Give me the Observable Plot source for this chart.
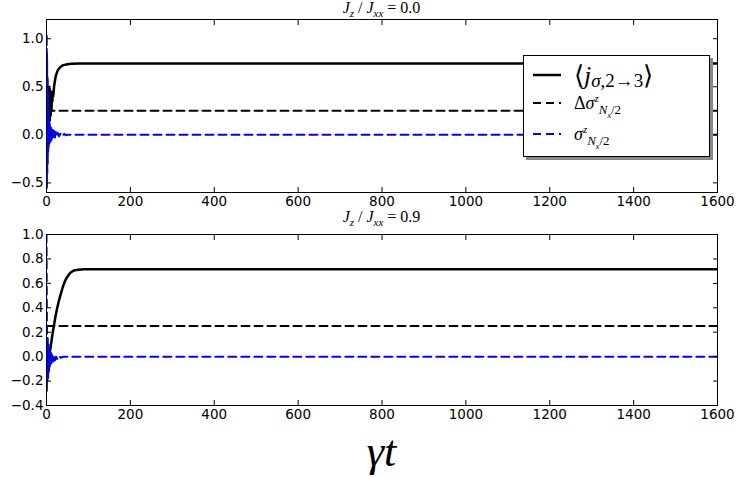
<!DOCTYPE html>
<html>
<head>
<meta charset="utf-8">
<script src="https://cdn.jsdelivr.net/npm/d3@7"></script>
<script src="https://cdn.jsdelivr.net/npm/@observablehq/plot@0.6"></script>
<style>
body { margin: 0; background: #fff; }
#wrap { position: relative; width: 737px; height: 478px; overflow: hidden; font-family: "DejaVu Sans", sans-serif; }
.panel { position: absolute; left: 0; z-index: 1; }
.title { position: absolute; z-index: 2; left: 46px; width: 671px; text-align: center; font-family: "Liberation Serif", serif; font-size: 16px; line-height: 16px; }
.title i { font-style: italic; }
.title sub { font-size: 11px; line-height: 0; }
#xlabel { position: absolute; z-index: 2; left: 46px; width: 671px; text-align: center; top: 434px; font-family: "Liberation Serif", serif; font-style: italic; font-size: 44px; line-height: 36px; }
#legend { position: absolute; z-index: 3; left: 523px; top: 55px; width: 185px; height: 100px; background: #fff; border: 1px solid #000; box-shadow: 3px 3px 0 #888; font-family: "Liberation Serif", serif; }
.row { position: absolute; left: 0; width: 185px; }
.row svg { position: absolute; left: 9px; }
.row .lbl { position: absolute; left: 50px; white-space: nowrap; line-height: 1; }
</style>
</head>
<body>
<div id="wrap">
  <div id="top" class="panel" style="top:0px"></div>
  <div id="bottom" class="panel" style="top:218px"></div>
  <div class="title" style="top:0px"><i>J</i><sub><i>z</i></sub> / <i>J</i><sub><i>xx</i></sub> = 0.0</div>
  <div class="title" style="top:209px"><i>J</i><sub><i>z</i></sub> / <i>J</i><sub><i>xx</i></sub> = 0.9</div>
  <div id="xlabel">γt</div>
  <div id="legend">
    <div class="row" style="top:6px;height:28px">
      <svg width="30" height="28"><line x1="0" x2="28" y1="13" y2="13" stroke="#000" stroke-width="2.5"/></svg>
      <span class="lbl" style="font-size:26px;top:1px">⟨<i>j</i><span style="font-size:19px;position:relative;top:3px"><i>σ</i>,2→3</span>⟩</span>
    </div>
    <div class="row" style="top:35px;height:28px">
      <svg width="30" height="28"><line x1="0" x2="28" y1="12" y2="12" stroke="#000" stroke-width="2" stroke-dasharray="8,5"/></svg>
      <span class="lbl" style="font-size:18px;top:3px">Δ<i>σ</i><sup style="font-size:11px;line-height:0"><i>z</i></sup><span style="font-size:13px;position:relative;top:5px"><i>N</i><sub style="font-size:8px;line-height:0"><i>x</i></sub>/2</span></span>
    </div>
    <div class="row" style="top:66px;height:28px">
      <svg width="30" height="28"><line x1="0" x2="28" y1="12" y2="12" stroke="#0000ff" stroke-width="2" stroke-dasharray="8,5"/></svg>
      <span class="lbl" style="font-size:18px;top:3px"><i>σ</i><sup style="font-size:11px;line-height:0"><i>z</i></sup><span style="font-size:13px;position:relative;top:5px"><i>N</i><sub style="font-size:8px;line-height:0"><i>x</i></sub>/2</span></span>
    </div>
  </div>
</div>
<script>
// ---- data ----
const xTicks = [0, 200, 400, 600, 800, 1000, 1200, 1400, 1600];
const yTicksTop = [-0.5, 0.0, 0.5, 1.0];
const yTicksBottom = [-0.4, -0.2, 0.0, 0.2, 0.4, 0.6, 0.8, 1.0];

// Top panel (Jz/Jxx = 0.0)
const topJ_t = [0,0.5,1,1.5,2,2.5,3,3.5,4,4.5,5,5.5,6,6.5,7,7.5,8,8.5,9,9.5,10,10.5,11,11.5,12,13,14,15,16,18,20,22,25,28,32,36,40,50,60,80,1600];
const topJ_v = [0.85,0.80,0.35,0.60,0.15,0.50,0.20,0.48,0.12,0.45,0.25,0.50,0.18,0.46,0.28,0.48,0.15,0.44,0.30,0.45,0.20,0.42,0.32,0.44,0.25,0.42,0.35,0.45,0.40,0.50,0.56,0.61,0.65,0.68,0.70,0.715,0.725,0.735,0.74,0.742,0.742];
const topD_t = [0, 1600];
const topD_v = [0.25, 0.25];
const topS_t = [0,0.5,1,1.5,2,2.5,3,3.5,4,4.5,5,5.5,6,6.5,7,7.5,8,9,10,11,12,13,14,15,16,18,20,22,24,27,30,34,38,42,46,50,1600];
const topS_v = [0.0,1.05,-0.55,0.8,-0.4,0.6,-0.3,0.45,-0.2,0.3,-0.15,0.2,-0.12,0.15,-0.1,0.12,-0.08,0.09,-0.07,0.07,-0.05,0.06,-0.04,0.05,-0.03,0.04,-0.03,0.03,-0.02,0.02,-0.015,0.015,-0.01,0.01,-0.005,0,0];

// Bottom panel (Jz/Jxx = 0.9)
const botJ_t = [0,1,2,3,4,5,6,8,10,12,15,18,21,25,29,33,38,43,48,53,58,65,75,90,1600];
const botJ_v = [-0.28,0.15,-0.12,0.08,-0.05,0.04,0.0,0.04,0.08,0.13,0.2,0.26,0.32,0.39,0.45,0.5,0.56,0.61,0.645,0.67,0.69,0.705,0.712,0.715,0.715];
const botD_t = [0, 1600];
const botD_v = [0.25, 0.25];
const botS_t = [0,1,2,3,4,5,6,7,8,9,10,11,12,14,16,18,20,23,26,30,34,40,1600];
const botS_v = [1.0,0.3,-0.2,0.15,-0.18,0.1,-0.12,0.06,-0.08,0.04,-0.06,0.03,-0.05,0.02,-0.04,0.01,-0.03,0.0,-0.02,0.005,-0.01,0.0,0.0];

const zip = (ts, vs) => ts.map((t, i) => ({t, v: vs[i]}));

function panel(series, yDomain, yTicks, height, mt, mb) {
  const [J, D, S] = series;
  return Plot.plot({
    width: 737, height,
    marginLeft: 46, marginRight: 20, marginTop: mt, marginBottom: mb,
    style: {fontFamily: "DejaVu Sans", fontSize: "13.5px", color: "#000", background: "transparent"},
    x: {domain: [0, 1600], label: null},
    y: {domain: yDomain, label: null},
    marks: [
      Plot.line(J, {x: "t", y: "v", stroke: "#000", strokeWidth: 2.5, clip: true}),
      Plot.line(D, {x: "t", y: "v", stroke: "#000", strokeWidth: 2, strokeDasharray: "8,5", clip: true}),
      Plot.line(S, {x: "t", y: "v", stroke: "#0000ff", strokeWidth: 2, strokeDasharray: "8,5", clip: true}),
      Plot.frame({stroke: "#000", strokeWidth: 1}),
      Plot.axisX({ticks: xTicks, tickSize: -5, tickFormat: () => "", label: null}),
      Plot.axisX({anchor: "top", ticks: xTicks, tickSize: -5, tickFormat: () => "", label: null}),
      Plot.axisX({ticks: xTicks, tickSize: 0, tickPadding: 4, fontSize: 13.5, tickFormat: d => String(d), label: null}),
      Plot.axisY({ticks: yTicks, tickSize: -5, tickFormat: () => "", label: null}),
      Plot.axisY({anchor: "right", ticks: yTicks, tickSize: -5, tickFormat: () => "", label: null}),
      Plot.axisY({ticks: yTicks, tickSize: 0, tickPadding: 3, fontSize: 13.5, tickFormat: d3.format(".1f"), label: null})
    ]
  });
}

document.getElementById("top").appendChild(
  panel([zip(topJ_t, topJ_v), zip(topD_t, topD_v), zip(topS_t, topS_v)], [-0.6, 1.2], yTicksTop, 218, 19, 26));
document.getElementById("bottom").appendChild(
  panel([zip(botJ_t, botJ_v), zip(botD_t, botD_v), zip(botS_t, botS_v)], [-0.4, 1.0], yTicksBottom, 260, 16, 73));
</script>
</body>
</html>
